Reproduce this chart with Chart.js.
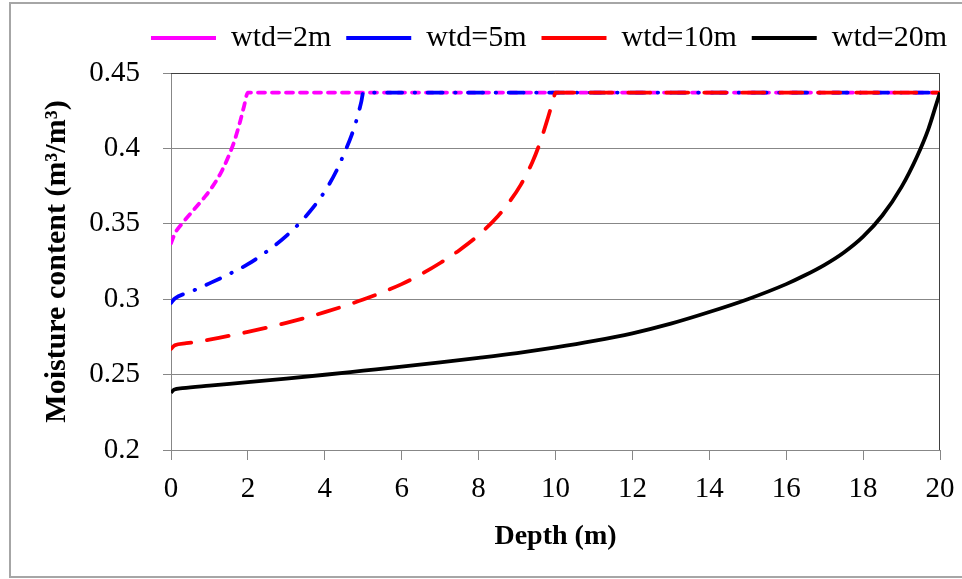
<!DOCTYPE html>
<html>
<head>
<meta charset="utf-8">
<title>Moisture content vs depth</title>
<script src="https://cdn.jsdelivr.net/npm/chart.js@4.4.1/dist/chart.umd.min.js"></script>
<style>
  html, body { margin: 0; padding: 0; background: #fff; }
  #wrap { position: relative; width: 962px; height: 579px; }
</style>
</head>
<body>
<div id="wrap"><canvas id="chart" width="962" height="579"></canvas></div>
<script>
// depth below surface (m) and moisture content (m3/m3) for each water table depth
const depth2  = [0, 0.1, 0.3, 0.6, 0.9, 1.1, 1.3, 1.5, 1.65, 1.8, 1.9, 2.0, 20];
const theta2  = [0.337, 0.3435, 0.3505, 0.3595, 0.3685, 0.3755, 0.384, 0.395, 0.405, 0.418, 0.428, 0.437, 0.437];

const depth5  = [0, 0.1, 0.5, 1, 1.5, 2, 2.5, 3, 3.5, 4, 4.3, 4.5, 4.7, 4.85, 4.95, 5.0, 20];
const theta5  = [0.2975, 0.3005, 0.3048, 0.3105, 0.3165, 0.3232, 0.3318, 0.342, 0.3548, 0.3715, 0.385, 0.3965, 0.409, 0.421, 0.431, 0.437, 0.437];

const depth10 = [0, 0.1, 0.4, 1, 2, 3, 4, 5, 6, 6.5, 7, 7.5, 8, 8.5, 8.8, 9.1, 9.4, 9.6, 9.8, 9.95, 10.0, 20];
const theta10 = [0.267, 0.2695, 0.2708, 0.2732, 0.2783, 0.2843, 0.2914, 0.2998, 0.31, 0.3165, 0.324, 0.3325, 0.3425, 0.355, 0.3645, 0.376, 0.391, 0.404, 0.42, 0.433, 0.437, 0.437];

const depth20 = [0, 0.08, 0.3, 1, 2, 3, 4, 5, 6, 7, 8, 9, 10, 11, 12, 13, 14, 15, 16, 16.5, 17, 17.5, 18, 18.5, 19, 19.4, 19.7, 19.9, 20];
const theta20 = [0.238, 0.24, 0.241, 0.2427, 0.245, 0.2474, 0.2499, 0.2526, 0.2553, 0.2581, 0.2611, 0.2643, 0.268, 0.2723, 0.2774, 0.2838, 0.2915, 0.3, 0.31, 0.316, 0.3228, 0.331, 0.3415, 0.3555, 0.3745, 0.3945, 0.413, 0.429, 0.437];

const seriesNames = ['wtd=2m', 'wtd=5m', 'wtd=10m', 'wtd=20m'];
const xTicks = [0, 2, 4, 6, 8, 10, 12, 14, 16, 18, 20];
const xTickLabels = ['0', '2', '4', '6', '8', '10', '12', '14', '16', '18', '20'];
const yTicks = [0.2, 0.25, 0.3, 0.35, 0.4, 0.45];
const yTickLabels = ['0.2', '0.25', '0.3', '0.35', '0.4', '0.45'];

const serif = "'Times New Roman', 'Liberation Serif', serif";
const gridGrey = '#878787';

function pts(xs, ys) { return xs.map((x, i) => ({ x: x, y: ys[i] })); }

// grey frame round the whole figure
const chartFrame = {
  id: 'chartFrame',
  beforeDraw(chart) {
    const ctx = chart.ctx;
    ctx.save();
    ctx.strokeStyle = '#a6a6a6';
    ctx.lineWidth = 2;
    ctx.strokeRect(10, 3, chart.width, chart.height - 5);
    ctx.restore();
  }
};

// dark top and right edges of the plot box
const plotBorder = {
  id: 'plotBorder',
  beforeDatasetsDraw(chart) {
    const { ctx, chartArea: a } = chart;
    ctx.save();
    ctx.strokeStyle = '#404040';
    ctx.lineWidth = 1;
    ctx.beginPath();
    ctx.moveTo(a.left, a.top + 0.5);
    ctx.lineTo(a.right - 0.5, a.top + 0.5);
    ctx.lineTo(a.right - 0.5, a.bottom);
    ctx.stroke();
    ctx.restore();
  }
};

function series(i, xs, ys, color, dash, cap, order) {
  return {
    label: seriesNames[i],
    data: pts(xs, ys),
    borderColor: color,
    backgroundColor: color,
    borderDash: dash,
    borderCapStyle: cap,
    borderWidth: 3.8,
    fill: false,
    pointRadius: 0,
    cubicInterpolationMode: 'monotone',
    order: order
  };
}

new Chart(document.getElementById('chart'), {
  type: 'line',
  data: {
    datasets: [
      series(0, depth2, theta2, '#ff00ff', [7, 7], 'round', 3),
      series(1, depth5, theta5, '#0000ff', [15, 12.5, 0.5, 12.5], 'round', 2),
      series(2, depth10, theta10, '#ff0000', [22, 16], 'round', 1),
      series(3, depth20, theta20, '#000000', [], 'butt', 0)
    ]
  },
  options: {
    responsive: false,
    devicePixelRatio: 1,
    animation: false,
    events: [],
    layout: { padding: { top: 8, left: 12, right: 0, bottom: 0 } },
    plugins: {
      tooltip: { enabled: false },
      legend: {
        position: 'top',
        align: 'end',
        labels: {
          usePointStyle: true,
          pointStyle: 'line',
          pointStyleWidth: 65,
          padding: 15,
          color: '#000',
          font: { family: serif, size: 30 },
          sort: (a, b) => a.datasetIndex - b.datasetIndex
        }
      },
      // empty spacer between the legend and the plot
      title: { display: true, text: '', weight: 500, padding: { top: 0, bottom: 0 }, font: { size: 10, lineHeight: 1 } }
    },
    scales: {
      x: {
        type: 'linear',
        min: 0,
        max: 20,
        afterBuildTicks: s => { s.ticks = xTicks.map(v => ({ value: v })); },
        afterFit: s => { s.height = 129; s.paddingRight = 22; },
        ticks: {
          callback: (v, i) => xTickLabels[i],
          color: '#000',
          font: { family: serif, size: 29 },
          padding: 12,
          maxRotation: 0,
          autoSkip: false
        },
        grid: { drawOnChartArea: false, drawTicks: true, tickLength: 10, color: gridGrey, lineWidth: 1 },
        border: { color: gridGrey, width: 1 },
        title: {
          display: true,
          text: 'Depth (m)',
          color: '#000',
          font: { family: serif, size: 28, weight: 'bold' },
          padding: { top: 0, bottom: 25 }
        }
      },
      y: {
        type: 'linear',
        min: 0.2,
        max: 0.45,
        afterBuildTicks: s => { s.ticks = yTicks.map(v => ({ value: v })); },
        afterFit: s => { s.width = 159; },
        ticks: {
          callback: (v, i) => yTickLabels[i],
          color: '#000',
          font: { family: serif, size: 29 },
          padding: 23
        },
        grid: { drawTicks: true, tickLength: 8, color: gridGrey, lineWidth: 1 },
        border: { color: gridGrey, width: 1 },
        title: {
          display: true,
          text: 'Moisture content (m³/m³)',
          color: '#000',
          font: { family: serif, size: 30, weight: 'bold' },
          padding: { top: 27, bottom: 0 }
        }
      }
    }
  },
  plugins: [chartFrame, plotBorder]
});
</script>
</body>
</html>
